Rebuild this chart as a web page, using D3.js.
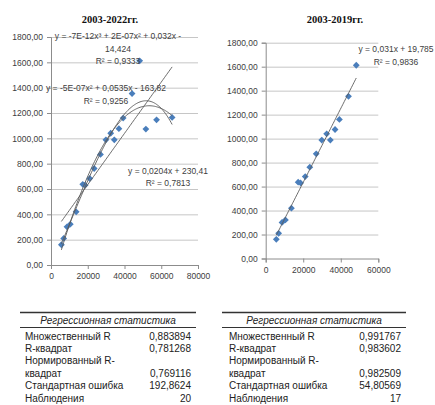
<!DOCTYPE html>
<html><head><meta charset="utf-8">
<script src="https://cdn.jsdelivr.net/npm/d3@7"></script>
<style>
html,body{margin:0;padding:0;background:#fff;}
svg{display:block;}
</style></head>
<body>
<svg id="c" width="435" height="405"></svg>
<script>
// ---- data ----
const years = [2003,2004,2005,2006,2007,2008,2009,2010,2011,2012,2013,2014,2015,2016,2017,2018,2019,2020,2021,2022];
const xValues = [5650,6900,8700,10500,13700,17300,18570,21070,23500,26920,29880,32490,34450,36960,39270,44120,48260,51630,57450,65920];
const yValues = [160,210,301,322,420,637,630,683,762,873,988,1040,988,1076,1160,1353,1612,1073,1146,1165];
const yTicks = [0,200,400,600,800,1000,1200,1400,1600,1800];
const xTicksLeft = [0,20000,40000,60000,80000];
const xTicksRight = [0,20000,40000,60000];
const titles = ["2003-2022гг.","2003-2019гг."];
const eqLeftCubic = ["y = -7E-12x³ + 2E-07x² + 0,032x -","14,424","R² = 0,9333"];
const eqLeftQuad = ["y = -5E-07x² + 0,0535x - 163,82","R² = 0,9256"];
const eqLeftLin = ["y = 0,0204x + 230,41","R² = 0,7813"];
const eqRightLin = ["y = 0,031x + 19,785","R² = 0,9836"];
const tableHeader = "Регрессионная статистика";
const tableLabels = [["Множественный R"],["R-квадрат"],["Нормированный R-","квадрат"],["Стандартная ошибка"],["Наблюдения"]];
const tableLeftValues = ["0,883894","0,781268","0,769116","192,8624","20"];
const tableRightValues = ["0,991767","0,983602","0,982509","54,80569","17"];

const svg = d3.select("#c");
svg.append("rect").attr("width",435).attr("height",405).attr("fill","#fff");
const fmtY = d => d3.format(".2f")(d).replace(".", ",");
const SANS = "'Liberation Sans', Arial, sans-serif";

function polyfit(xs, ys, deg){
  const s = 10000;
  const n = deg+1;
  const A = Array.from({length:n},()=>new Array(n+1).fill(0));
  xs.forEach((x0,k)=>{
    const x = x0/s;
    for(let i=0;i<n;i++){
      for(let j=0;j<n;j++) A[i][j]+=Math.pow(x,i+j);
      A[i][n]+=ys[k]*Math.pow(x,i);
    }
  });
  for(let i=0;i<n;i++){
    let p=i; for(let r=i+1;r<n;r++) if(Math.abs(A[r][i])>Math.abs(A[p][i])) p=r;
    [A[i],A[p]]=[A[p],A[i]];
    for(let r=0;r<n;r++){ if(r===i) continue; const f=A[r][i]/A[i][i]; for(let c=i;c<=n;c++) A[r][c]-=f*A[i][c]; }
  }
  const coef = A.map((row,i)=>row[n]/row[i]);
  return x => coef.reduce((acc,c,i)=>acc+c*Math.pow(x/s,i),0);
}

function drawChart(cfg){
  const g = svg.append("g");
  const x = d3.scaleLinear().domain(cfg.xDomain).range(cfg.xRange);
  const y = d3.scaleLinear().domain([0,1800]).range(cfg.yRange);
  // gridlines
  g.selectAll(".grid").data(yTicks.filter(d=>d>0)).join("line")
    .attr("x1",cfg.xRange[0]).attr("x2",cfg.xRange[1])
    .attr("y1",d=>y(d)+0.5).attr("y2",d=>y(d)+0.5)
    .attr("stroke","#c6c6c6").attr("stroke-width",1);
  // y axis
  const ya = d3.axisLeft(y).tickValues(yTicks).tickFormat(fmtY).tickSize(4).tickPadding(4);
  const yg = g.append("g").attr("transform",`translate(${cfg.xRange[0]},0)`).call(ya);
  yg.select(".domain").attr("stroke","#8c8c8c");
  yg.selectAll(".tick line").attr("stroke","#8c8c8c");
  yg.selectAll("text").attr("font-family",SANS).attr("font-size","8.5px").attr("fill","#404040");
  // x axis
  const xa = d3.axisBottom(x).tickValues(cfg.xTicks).tickFormat(d3.format("d")).tickSize(4).tickPadding(4);
  const xg = g.append("g").attr("transform",`translate(0,${cfg.yRange[0]})`).call(xa);
  xg.select(".domain").attr("stroke","#8c8c8c");
  xg.selectAll(".tick line").attr("stroke","#8c8c8c");
  xg.selectAll("text").attr("font-family",SANS).attr("font-size","8.5px").attr("fill","#404040");
  // points
  const xs = xValues.slice(0,cfg.n), ys = yValues.slice(0,cfg.n);
  const r = 3.4;
  g.selectAll(".pt").data(xs.map((d,i)=>[d,ys[i]])).join("path")
    .attr("d",`M0,${-r}L${r},0L0,${r}L${-r},0Z`)
    .attr("transform",d=>`translate(${x(d[0])},${y(d[1])})`)
    .attr("fill","#4a7ebb");
  // trendlines
  const xmin = d3.min(xs), xmax = d3.max(xs);
  const samples = d3.range(0,101).map(i=>xmin+(xmax-xmin)*i/100);
  cfg.degrees.forEach(deg=>{
    const f = polyfit(xs,ys,deg);
    g.append("path").datum(samples)
      .attr("d",d3.line().x(d=>x(d)).y(d=>y(f(d))))
      .attr("fill","none").attr("stroke","#5a5a5a").attr("stroke-width",0.9);
  });
  // title
  g.append("text").attr("x",cfg.titleX).attr("y",23).attr("text-anchor","middle")
    .attr("font-family","'Liberation Serif','Times New Roman',serif").attr("font-weight","bold")
    .attr("font-size","10.5px").attr("fill","#111").text(cfg.title);
  // equations
  cfg.labels.forEach(l=>{
    l.lines.forEach((t,i)=>{
      g.append("text").attr("x",l.x).attr("y",l.y+i*12.6).attr("text-anchor","middle")
        .attr("font-family",SANS).attr("font-size","8.5px").attr("fill","#404040").text(t);
    });
  });
}

drawChart({xDomain:[0,80000], xRange:[51,198], yRange:[265,37], xTicks:xTicksLeft, n:20, degrees:[1,2,3],
  title:titles[0], titleX:110,
  labels:[{x:118,y:39,lines:eqLeftCubic},{x:106,y:91,lines:eqLeftQuad},{x:168,y:173.5,lines:eqLeftLin}]});
drawChart({xDomain:[0,60000], xRange:[265.7,378.3], yRange:[258.5,42.7], xTicks:xTicksRight, n:17, degrees:[1],
  title:titles[1], titleX:335,
  labels:[{x:396,y:52,lines:eqRightLin}]});

function drawTable(x0,x1,labelX,valueX,values){
  const g = svg.append("g");
  g.append("line").attr("x1",x0).attr("x2",x1).attr("y1",312.5).attr("y2",312.5).attr("stroke","#333").attr("stroke-width",1.4);
  g.append("line").attr("x1",x0).attr("x2",x1).attr("y1",327.5).attr("y2",327.5).attr("stroke","#333").attr("stroke-width",1);
  g.append("text").attr("x",(x0+x1)/2).attr("y",324).attr("text-anchor","middle")
    .attr("font-family",SANS).attr("font-style","italic").attr("font-size","10px").attr("fill","#222").text(tableHeader);
  let yy = 340;
  tableLabels.forEach((lines,i)=>{
    lines.forEach((t,j)=>{
      g.append("text").attr("x",labelX).attr("y",yy+j*12.8).attr("font-family",SANS).attr("font-size","10px").attr("fill","#222").text(t);
    });
    const vy = yy+(lines.length-1)*12.8;
    g.append("text").attr("x",valueX).attr("y",vy).attr("text-anchor","end").attr("font-family",SANS).attr("font-size","10px").attr("fill","#222").text(values[i]);
    yy += lines.length*12.8 - (lines.length>1?0.6:0);
    if(i===0) yy = 351.6;
  });
}
drawTable(20,196,25,191,tableLeftValues);
drawTable(222,406,229,401,tableRightValues);
</script>
</body></html>
